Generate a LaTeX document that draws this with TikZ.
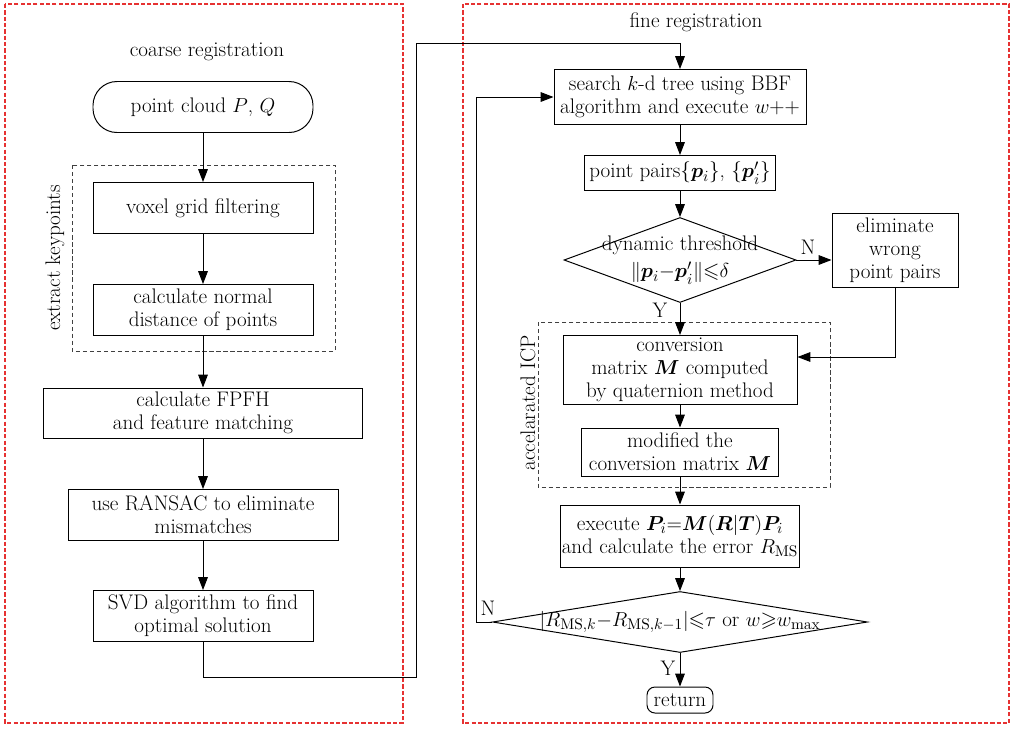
\documentclass[tikz,border=0pt]{standalone}
\usepackage{amsmath,amssymb,bm}
\usetikzlibrary{shapes.geometric,arrows.meta}

\definecolor{regionred}{RGB}{230,50,50}

\begin{document}
\begin{tikzpicture}[
    txt/.style={font=\fontsize{15}{16.5}\selectfont, align=center},
    proc/.style={txt, draw, line width=0.7pt, inner sep=1pt},
    term/.style={proc, rounded corners=0.6cm},
    decision/.style={txt, draw, line width=0.7pt, shape=diamond, inner sep=0pt},
    flow/.style={line width=0.7pt, -{Triangle[length=3.2mm, width=2.4mm]}},
    region/.style={draw=regionred, line width=0.75pt, dash pattern=on 3pt off 1.5pt},
    group/.style={draw=black!75, line width=0.7pt, dash pattern=on 3pt off 2pt}
]
    \useasboundingbox (0, 0) rectangle (25.3, -18.2);

    % outer regions
    \draw[region] (0.125, -0.1) rectangle (10.075, -18.075);
    \draw[region] (11.575, -0.1) rectangle (25.225, -18.075);
    \draw[group] (1.8, -4.125) rectangle (8.375, -8.775);
    \draw[group] (13.45, -8.05) rectangle (20.75, -12.175);

    \node[txt] (coarse) at (5.175, -1.3) {coarse registration};
    \node[txt] (fine) at (17.4, -0.55) {fine registration};
    \node[txt, rotate=90] (keypts) at (1.375, -6.45) {extract keypoints};
    \node[txt, rotate=90] (icp) at (13.2, -10.075) {accelarated ICP};

    % coarse registration
    \node[term, minimum width=5.5cm, minimum height=1.275cm] (cloud) at (5.075, -2.675) {point cloud $P$, $Q$};
    \node[proc, minimum width=5.5cm, minimum height=1.275cm] (voxel) at (5.075, -5.2) {voxel grid filtering};
    \node[proc, minimum width=5.5cm, minimum height=1.275cm] (normal) at (5.075, -7.75) {calculate normal\\distance of points};
    \node[proc, minimum width=7.975cm, minimum height=1.25cm] (fpfh) at (5.075, -10.325) {calculate FPFH\\and feature matching};
    \node[proc, minimum width=6.75cm, minimum height=1.275cm] (ransac) at (5.075, -12.875) {use RANSAC to eliminate\\mismatches};
    \node[proc, minimum width=5.5cm, minimum height=1.275cm] (svd) at (5.075, -15.4) {SVD algorithm to find\\optimal solution};

    % fine registration
    \node[proc, minimum width=6.3cm, minimum height=1.375cm] (search) at (17.0, -2.425) {search $k$-d tree using BBF\\algorithm and execute $w$++};
    \node[proc, minimum width=4.775cm, minimum height=0.875cm] (pairs) at (17.0, -4.325) {point pairs\{$\bm{p}_i$\}, \{$\bm{p}'_i$\}};
    \node[decision, aspect=2.73, minimum width=5.8cm, minimum height=2.125cm, inner sep=-6pt] (thresh) at (17.0, -6.5) {dynamic threshold\\[3pt]$\|\bm{p}_i{-}\bm{p}'_i\|{\leqslant}\delta$};
    \node[proc, minimum width=3.15cm, minimum height=1.85cm] (elim) at (22.375, -6.25) {eliminate\\wrong\\point pairs};
    \node[proc, minimum width=5.85cm, minimum height=1.725cm] (conv) at (17.0, -9.25) {conversion\\matrix $\bm{M}$ computed\\by quaternion method};
    \node[proc, minimum width=4.925cm, minimum height=1.2cm] (modif) at (17.0, -11.3) {modified the\\conversion matrix $\bm{M}$};
    \node[proc, minimum width=5.825cm, minimum height=1.55cm] (exec) at (17.0, -13.4) {execute $\bm{P}_i{=}\bm{M}(\bm{R}|\bm{T})\bm{P}_i$\\and calculate the error $R_{\mathrm{MS}}$};
    \node[decision, aspect=6.15, minimum width=9.375cm, minimum height=1.525cm, inner sep=-5pt] (check) at (17.0, -15.55) {$|R_{\mathrm{MS},k}{-}R_{\mathrm{MS},k-1}|{\leqslant}\tau$ or $w{\geqslant}w_{\max}$};
    \node[term, rounded corners=0.2cm, minimum width=1.65cm, minimum height=0.65cm, inner sep=0pt] (ret) at (17.0, -17.5) {return};

    \node[txt] (no1) at (20.2, -6.175) {N};
    \node[txt] (yes1) at (16.5, -7.75) {Y};
    \node[txt] (no2) at (12.2, -15.2) {N};
    \node[txt] (yes2) at (16.7, -16.7) {Y};

    \coordinate (bendA) at (10.4, -16.925);
    \coordinate (bendB) at (10.4, -1.075);
    \coordinate (loopc) at (11.9, -15.55);

    % connectors
    \draw[flow] (cloud.south) -- (voxel.north);
    \draw[flow] (voxel.south) -- (normal.north);
    \draw[flow] (normal.south) -- (fpfh.north);
    \draw[flow] (fpfh.south) -- (ransac.north);
    \draw[flow] (ransac.south) -- (svd.north);
    \draw[flow] (svd.south) |- (bendA) -- (bendB) -| (search.north);

    \draw[flow] (search.south) -- (pairs.north);
    \draw[flow] (pairs.south) -- (thresh.north);
    \draw[flow] (thresh.east) -- (thresh.east -| elim.west);
    \draw[flow] (thresh.south) -- (conv.north);
    \draw[flow] (elim.south) |- ([yshift=0.325cm]conv.east);
    \draw[flow] (conv.south) -- (modif.north);
    \draw[flow] (modif.south) -- (exec.north);
    \draw[flow] (exec.south) -- (check.north);
    \draw[flow] (check.south) -- (ret.north);
    \draw[flow] (check.west) -- (loopc) |- (search.west);
\end{tikzpicture}
\end{document}
